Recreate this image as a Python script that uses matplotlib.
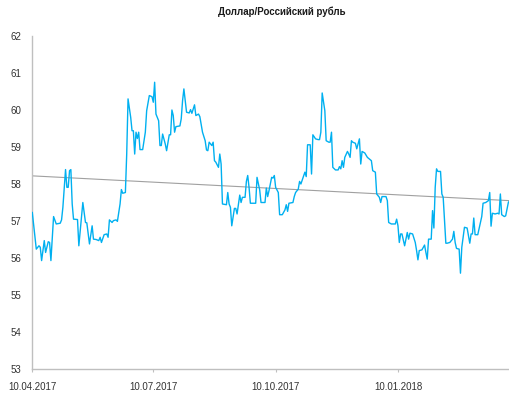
import numpy as np
import matplotlib
matplotlib.use("Agg")
import matplotlib.pyplot as plt

plt.rcParams['font.family'] = ['Liberation Sans', 'DejaVu Sans']

title = "Доллар/Российский рубль"
start_date = "2017-04-10"
tick_dates = ["2017-04-10", "2017-07-10", "2017-10-10", "2018-01-10"]
tick_labels = ["10.04.2017", "10.07.2017", "10.10.2017", "10.01.2018"]
y_ticks = [53, 54, 55, 56, 57, 58, 59, 60, 61, 62]

# days since 10.04.2017
day_offsets = [
    0, 3, 5, 6, 7, 9, 10, 12, 13, 14, 16, 18, 21, 22, 23, 25, 26, 27, 28, 29,
    30, 31, 34, 35, 38, 40, 41, 43, 45, 46, 48, 50, 51, 52, 54, 56, 57, 58, 60, 61,
    63, 64, 66, 67, 68, 70, 71, 72, 74, 75, 76, 77, 78, 79, 80, 81, 83, 85, 86, 88,
    90, 91, 92, 93, 95, 96, 97, 98, 100, 101, 103, 104, 105, 106, 107, 108, 111, 112, 113, 114,
    116, 118, 119, 120, 122, 123, 125, 126, 128, 130, 131, 132, 133, 135, 136, 137, 138, 140, 141, 142,
    143, 146, 147, 148, 149, 150, 152, 153, 154, 156, 157, 158, 160, 161, 162, 163, 164, 168, 169, 171,
    172, 175, 176, 177, 178, 180, 181, 182, 183, 185, 186, 188, 190, 191, 192, 193, 196, 197, 198, 200,
    201, 202, 205, 206, 207, 209, 210, 211, 213, 215, 216, 217, 218, 220, 221, 223, 224, 225, 226, 228,
    230, 231, 232, 233, 234, 235, 237, 238, 239, 240, 241, 243, 244, 246, 247, 248, 250, 252, 253, 255,
    256, 258, 259, 261, 262, 263, 266, 267, 268, 270, 273, 274, 275, 276, 277, 278, 280, 282, 283, 284,
    286, 288, 289, 290, 291, 293, 295, 296, 297, 298, 300, 301, 302, 303, 304, 305, 307, 308, 309, 311,
    312, 314, 316, 317, 318, 319, 321, 322, 323, 325, 327, 329, 330, 331, 332, 333, 335, 337, 338, 339,
    341, 343, 344, 345, 346, 348, 350, 351, 352, 353, 355, 356, 358, 359,
]

usd_rub = [
    57.23, 56.24, 56.33, 56.29, 55.93, 56.47, 56.15, 56.44, 56.42, 55.93, 57.12, 56.92, 56.94, 57.03, 57.37, 58.39, 57.91, 57.91, 58.36, 58.39,
    57.46, 57.05, 57.04, 56.33, 57.50, 56.96, 56.95, 56.38, 56.87, 56.51, 56.50, 56.47, 56.56, 56.42, 56.63, 56.65, 56.56, 57.03, 56.96, 57.01,
    57.03, 56.99, 57.46, 57.85, 57.75, 57.77, 58.81, 60.30, 59.80, 59.44, 59.44, 58.81, 59.40, 59.23, 59.40, 58.93, 58.93, 59.40, 59.98, 60.39,
    60.36, 60.21, 60.75, 59.89, 59.71, 59.04, 59.04, 59.35, 59.08, 58.90, 59.33, 59.33, 60.00, 59.85, 59.40, 59.55, 59.57, 59.76, 60.25, 60.57,
    59.94, 59.92, 60.01, 59.91, 60.14, 59.85, 59.89, 59.82, 59.40, 59.17, 58.92, 58.90, 59.13, 59.04, 59.13, 58.63, 58.59, 58.45, 58.81, 58.54,
    57.46, 57.44, 57.77, 57.46, 57.37, 56.87, 57.34, 57.34, 57.19, 57.70, 57.50, 57.64, 57.64, 58.07, 58.23, 57.91, 57.48, 57.48, 58.18, 57.84,
    57.50, 57.50, 57.89, 57.66, 57.82, 58.18, 58.16, 58.23, 57.91, 57.77, 57.17, 57.17, 57.30, 57.44, 57.26, 57.48, 57.50, 57.66, 57.77, 57.86,
    58.07, 58.00, 58.32, 58.20, 59.06, 59.06, 58.27, 59.33, 59.22, 59.20, 59.20, 59.40, 60.46, 59.98, 59.17, 59.13, 59.13, 59.40, 58.45, 58.38,
    58.38, 58.47, 58.41, 58.63, 58.45, 58.72, 58.88, 58.81, 58.72, 59.17, 59.13, 59.10, 58.95, 59.22, 58.54, 58.88, 58.84, 58.72, 58.69, 58.63,
    58.36, 58.32, 57.73, 57.64, 57.50, 57.66, 57.66, 57.55, 56.96, 56.92, 56.92, 57.05, 56.87, 56.42, 56.65, 56.65, 56.33, 56.69, 56.51, 56.67,
    56.65, 56.42, 56.20, 55.95, 56.20, 56.22, 56.35, 56.15, 55.97, 56.51, 56.51, 57.28, 56.81, 57.91, 58.41, 58.34, 58.34, 57.73, 57.64, 56.40,
    56.40, 56.42, 56.51, 56.72, 56.42, 56.26, 56.24, 55.59, 56.29, 56.83, 56.81, 56.40, 56.65, 56.65, 57.08, 56.63, 56.63, 56.96, 57.12, 57.48,
    57.50, 57.55, 57.77, 56.86, 57.21, 57.19, 57.21, 57.19, 57.73, 57.17, 57.12, 57.14, 57.50, 57.55,
]

# linear trend line end values
trend_days = [0, 359]
trend_values = [58.22, 57.55]

W, H = 510, 398
fig = plt.figure(figsize=(W / 100, H / 100), dpi=100)
ax = fig.add_axes([32.3 / W, 1 - 369 / H, (511 - 32.3) / W, (369 - 36) / H])

t0 = np.datetime64(start_date)
dates = t0 + np.array(day_offsets).astype('timedelta64[D]')
trend_dates = t0 + np.array(trend_days).astype('timedelta64[D]')

ax.plot(dates, usd_rub, color='#00B0F0', lw=1.0, zorder=3)
ax.plot(trend_dates, trend_values, color='#A0A0A0', lw=0.8, zorder=2)

ax.set_xlim(t0, t0 + np.timedelta64(360, 'D'))
ax.set_ylim(y_ticks[0], y_ticks[-1])
ax.set_yticks(y_ticks)
ax.set_yticklabels([str(v) for v in y_ticks])
ax.set_xticks([np.datetime64(d) for d in tick_dates])
ax.set_xticklabels(tick_labels)

for s in ['top', 'right']:
    ax.spines[s].set_visible(False)
for s in ['left', 'bottom']:
    ax.spines[s].set_color('#BFBFBF')
    ax.spines[s].set_linewidth(1.0)

ax.tick_params(axis='y', length=0, pad=8, labelsize=7, labelcolor='#333333')
ax.tick_params(axis='x', length=2.5, color='#BFBFBF', pad=6.5, labelsize=7, labelcolor='#333333')

fig.text(282 / W, 1 - 12 / H, title, ha='center', va='center',
         fontsize=7, fontweight='bold', color='#1a1a1a')

fig.savefig('out.png', dpi=100)
